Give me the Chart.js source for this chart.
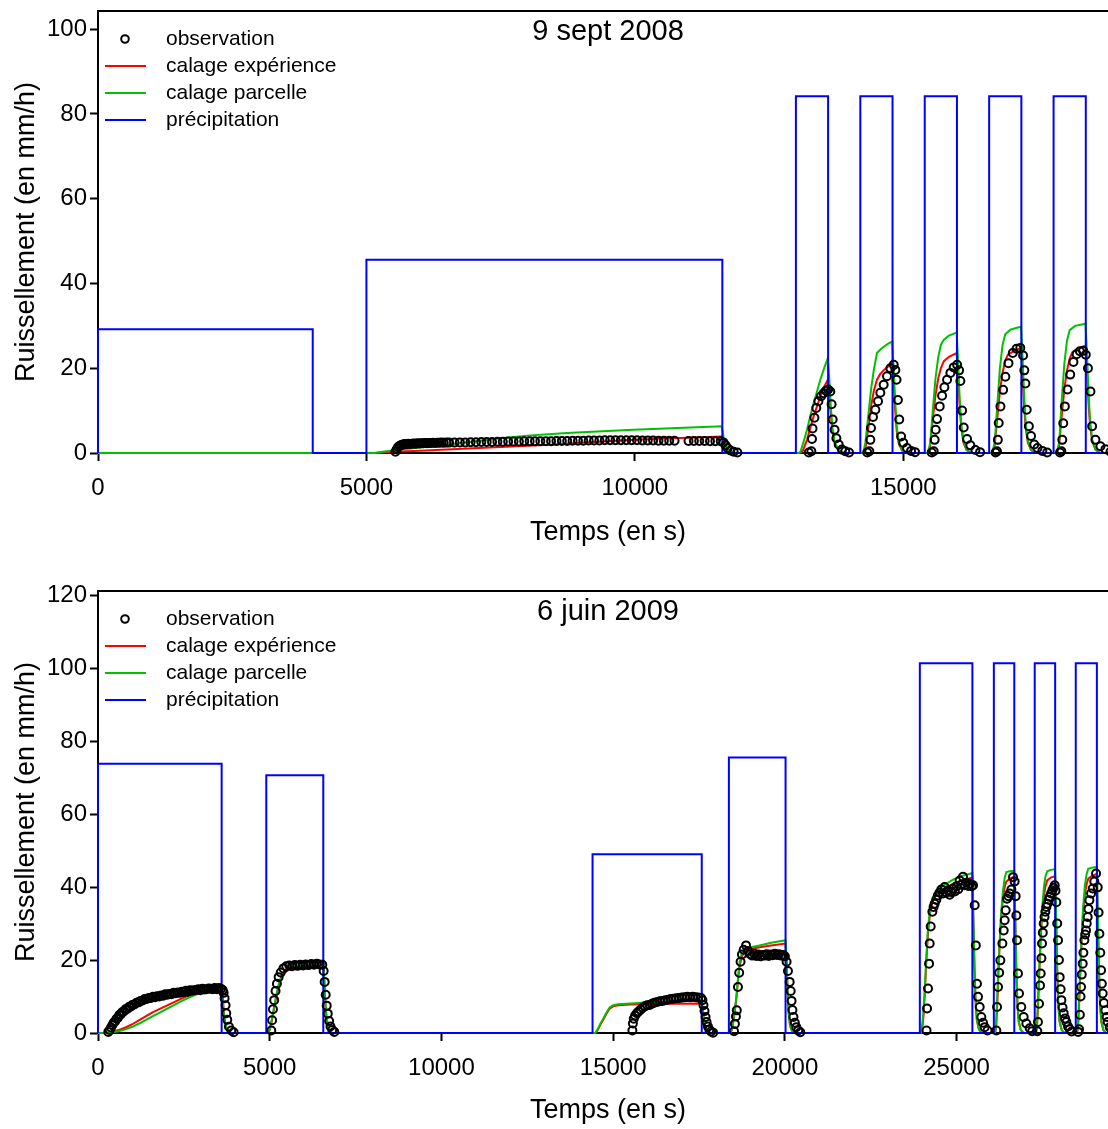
<!DOCTYPE html>
<html>
<head>
<meta charset="utf-8">
<script src="https://cdn.jsdelivr.net/npm/chart.js@4.4.1/dist/chart.umd.min.js"></script>
<style>
  html, body { margin: 0; padding: 0; background: #fff; overflow: hidden; }
  body { width: 1108px; height: 1129px; position: relative; }
  canvas { position: absolute; left: 0; }
  #chartTop { top: 0; }
  #chartBottom { top: 580px; }
</style>
</head>
<body>
<canvas id="chartTop" width="1124" height="580"></canvas>
<canvas id="chartBottom" width="1124" height="549"></canvas>
<script>
// TICKS
const xTicksTop = [0, 5000, 10000, 15000];
const yTicksTop = [0, 20, 40, 60, 80, 100];
const xTicksBottom = [0, 5000, 10000, 15000, 20000, 25000];
const yTicksBottom = [0, 20, 40, 60, 80, 100, 120];

const labels = ['observation', 'calage expérience', 'calage parcelle', 'précipitation'];

// 9 SEPT 2008 - [time s, mm/h]
const rainTop = [[0,0],[0,29.2],[4000,0],[5000,45.6],[11630,0],[13000,84.2],[13600,0],[14200,84.2],[14800,0],
  [15400,84.2],[16000,0],[16600,84.2],[17200,0],[17800,84.2],[18400,0],[19000,0]];

const expTop = [[0,0],[5150,0],[5500,0.3],[6000,0.55],[6500,0.8],[7000,1.1],[7500,1.4],[8000,1.7],[8500,2.0],[9000,2.4],
  [9500,2.8],[10000,3.1],[10500,3.4],[11000,3.6],[11620,3.9],[11660,2.2],[11700,1.0],[11760,0.3],[11850,0],
  [13080,0],[13130,0.5],[13207,3.1],[13270,6.0],[13330,8.6],[13400,11.3],[13455,13.3],[13520,15.5],[13595,17.3],
  [13620,14.0],[13650,9.0],[13680,5.0],[13720,2.5],[13780,0.8],[13850,0.2],[13950,0],
  [14260,0],[14300,1.5],[14350,6.0],[14400,11.0],[14450,14.5],[14510,17.3],[14570,18.6],[14640,19.6],[14720,20.4],[14795,21.2],
  [14820,17.0],[14850,10.0],[14880,5.0],[14920,2.0],[14980,0.5],[15050,0],
  [15460,0],[15500,1.5],[15550,8.0],[15598,13.4],[15650,17.5],[15700,20.0],[15753,21.6],[15850,22.7],[15995,23.6],
  [16020,18.0],[16050,11.0],[16080,6.0],[16120,2.5],[16180,0.7],[16260,0],
  [16660,0],[16700,1.5],[16750,8.0],[16800,14.5],[16850,19.0],[16900,21.8],[16950,23.2],[17050,24.0],[17195,24.8],
  [17220,19.0],[17250,11.5],[17280,6.0],[17320,2.5],[17380,0.7],[17460,0],
  [17860,0],[17900,1.5],[17950,8.5],[18000,15.0],[18050,19.5],[18100,22.3],[18150,23.8],[18250,24.7],[18395,25.3],
  [18420,19.5],[18450,12.0],[18480,6.5],[18520,2.8],[18580,0.8],[18660,0],[19000,0]];

const parTop = [[0,0],[5150,0],[5300,0.3],[5630,0.8],[6000,1.3],[6560,2.0],[7000,2.7],[7500,3.5],[8000,4.1],[8735,4.7],
  [9300,5.1],[9975,5.5],[10800,5.9],[11620,6.3],[11660,3.2],[11700,1.4],[11760,0.4],[11850,0],
  [13050,0],[13085,0.3],[13140,2.5],[13207,5.5],[13270,8.8],[13330,11.8],[13400,14.8],[13455,17.3],[13520,19.8],[13595,22.4],
  [13620,18.0],[13650,11.0],[13680,6.0],[13720,2.8],[13780,0.9],[13850,0.2],[13950,0],
  [14255,0],[14295,2.5],[14350,9.0],[14400,15.0],[14450,19.5],[14510,23.6],[14580,24.5],[14650,25.2],[14720,25.8],[14795,26.3],
  [14820,20.0],[14850,12.0],[14880,6.0],[14920,2.5],[14980,0.6],[15050,0],
  [15455,0],[15505,2.5],[15550,10.0],[15598,17.3],[15650,22.5],[15700,25.5],[15753,26.7],[15850,27.7],[15995,28.4],
  [16020,22.0],[16050,13.0],[16080,7.0],[16120,3.0],[16180,0.8],[16260,0],
  [16655,0],[16705,2.5],[16750,11.0],[16800,20.0],[16850,25.5],[16900,28.0],[16996,29.1],[17100,29.5],[17195,29.8],
  [17220,23.0],[17250,14.0],[17280,7.0],[17320,3.0],[17380,0.8],[17460,0],
  [17855,0],[17905,2.5],[17950,12.0],[18000,21.0],[18050,26.5],[18100,29.0],[18200,30.0],[18395,30.5],
  [18420,24.0],[18450,14.5],[18480,7.5],[18520,3.2],[18580,0.9],[18660,0],[19000,0]];

const obsTop = [
  [5540,0.3],[5565,0.9],[5590,1.4],[5620,1.7],[5650,1.9],[5680,2.0],[5710,2.1],[5745,2.1],[5780,2.2],[5815,2.15],
  [5850,2.2],[5885,2.25],[5920,2.2],[5955,2.3],[5990,2.25],[6025,2.3],[6060,2.3],[6095,2.35],[6130,2.3],[6165,2.35],
  [6200,2.35],[6240,2.4],[6280,2.35],[6320,2.4],[6360,2.4],[6400,2.45],[6440,2.4],[6490,2.45],[6540,2.45],
  [6640,2.45],[6740,2.5],[6840,2.5],[6940,2.55],[7040,2.55],[7140,2.6],[7240,2.6],[7340,2.6],[7440,2.65],[7540,2.65],
  [7640,2.7],[7740,2.7],[7840,2.7],[7940,2.75],[8040,2.75],[8140,2.75],[8240,2.8],[8340,2.8],[8440,2.8],[8540,2.85],
  [8640,2.85],[8740,2.85],[8840,2.9],[8940,2.9],[9040,2.9],[9140,2.95],[9240,2.95],[9340,2.95],[9440,3.0],[9540,3.0],
  [9640,3.0],[9740,3.0],[9840,3.0],[9940,3.0],[10040,3.0],[10140,2.95],[10240,2.95],[10340,2.95],[10440,2.9],[10540,2.9],
  [10640,2.9],[10740,2.9],[11000,2.85],[11100,2.85],[11200,2.85],[11300,2.85],[11400,2.8],[11500,2.8],[11600,2.8],
  [11650,2.5],[11690,1.8],[11730,1.1],[11780,0.6],[11840,0.3],[11910,0.1],
  [13240,0.1],[13288,0.4],[13300,3.3],[13310,5.8],[13345,8.3],[13380,10.6],[13420,12.2],[13468,13.4],[13517,14.1],
  [13560,14.7],[13600,15.0],[13641,14.5],[13665,11.5],[13685,7.9],[13720,5.5],[13754,3.5],[13797,2.0],[13858,0.8],
  [13920,0.4],[13990,0.1],
  [14330,0.1],[14368,0.4],[14387,3.1],[14399,5.9],[14436,8.5],[14480,10.2],[14530,12.2],[14573,14.2],[14635,16.1],
  [14697,18.1],[14760,20.0],[14822,20.8],[14853,19.6],[14875,17.3],[14900,12.5],[14925,7.9],[14960,3.9],[15000,2.4],
  [15070,1.2],[15145,0.5],[15220,0.2],
  [15530,0.1],[15567,0.4],[15585,3.1],[15604,5.5],[15629,8.0],[15679,11.0],[15723,13.5],[15766,15.5],[15816,17.3],
  [15878,18.9],[15940,20.2],[16003,20.8],[16040,19.5],[16064,17.0],[16096,10.0],[16126,6.0],[16188,3.3],[16250,1.8],
  [16344,0.7],[16430,0.2],
  [16720,0.1],[16745,0.4],[16762,3.1],[16778,7.1],[16810,11.0],[16860,14.9],[16902,18.0],[16960,21.2],[17040,23.6],
  [17110,24.6],[17180,24.8],[17232,23.0],[17255,19.5],[17275,16.4],[17300,10.2],[17340,6.3],[17380,4.0],[17440,2.0],
  [17500,1.2],[17590,0.5],[17680,0.1],
  [17920,0.1],[17945,0.4],[17962,3.1],[17980,7.0],[18010,11.0],[18060,15.0],[18110,18.5],[18170,21.5],[18230,23.3],
  [18290,24.0],[18350,24.1],[18400,23.2],[18440,20.0],[18487,14.5],[18518,6.3],[18580,3.1],[18673,1.6],[18766,0.9],
  [18860,0.3]];

// 6 JUIN 2009 - [time s, mm/h]
const rainBottom = [[0,0],[0,73.8],[3600,0],[4900,70.6],[6560,0],[14400,49.0],[17580,0],[18370,75.5],[20020,0],
  [23930,101.3],[25460,0],[26085,101.3],[26680,0],[27275,101.3],[27870,0],[28470,101.3],[29085,0],[29700,0]];

const expBottom = [[0,0],[200,0],[400,0.3],[600,0.8],[800,1.5],[1000,2.4],[1200,3.5],[1400,4.6],[1600,5.7],[1800,6.6],
  [2000,7.5],[2200,8.4],[2400,9.3],[2600,10.1],[2800,10.8],[3000,11.5],[3200,12.0],[3400,12.5],[3600,12.8],
  [3630,10.0],[3660,6.0],[3700,3.0],[3750,1.2],[3820,0.3],[3900,0],
  [4950,0],[5000,0.8],[5050,2.8],[5100,5.3],[5150,7.8],[5200,10.2],[5250,12.3],[5300,14.0],[5350,15.3],[5450,16.7],
  [5550,17.3],[5800,17.8],[6200,18.3],[6560,18.7],[6590,14.0],[6620,8.0],[6660,3.5],[6710,1.0],[6770,0.2],[6830,0],
  [14480,0],[14550,0.8],[14620,2.2],[14703,3.5],[14800,5.2],[14898,6.7],[15000,7.3],[15140,7.6],[15500,7.8],[15868,7.9],
  [16500,8.0],[17000,8.0],[17580,8.1],[17610,6.0],[17640,3.5],[17680,1.5],[17730,0.4],[17790,0],
  [18420,0],[18460,1.0],[18500,3.0],[18550,6.5],[18588,9.5],[18640,15.0],[18684,18.5],[18750,21.0],[18830,22.3],
  [19000,23.0],[19266,23.5],[19600,24.0],[20020,24.5],[20050,19.0],[20080,11.0],[20110,5.5],[20150,2.0],[20210,0.5],[20280,0],
  [23960,0],[24000,1.0],[24040,5.0],[24071,10.0],[24110,18.0],[24168,27.5],[24230,33.0],[24313,36.4],[24400,37.8],
  [24507,38.6],[24700,39.8],[24895,40.9],[25150,41.8],[25460,42.6],[25490,30.0],[25520,18.0],[25550,9.0],[25590,3.5],
  [25650,1.0],[25730,0],
  [26120,0],[26150,1.5],[26185,8.0],[26220,17.0],[26255,24.5],[26300,32.0],[26352,37.0],[26400,40.0],[26449,41.5],
  [26550,42.3],[26680,42.8],[26710,30.0],[26740,17.0],[26770,8.0],[26810,3.0],[26870,0.8],[26950,0],
  [27310,0],[27340,1.5],[27375,8.0],[27410,17.0],[27445,25.0],[27490,32.5],[27542,37.5],[27590,40.3],[27640,41.8],
  [27740,42.6],[27870,43.0],[27900,30.0],[27930,17.0],[27960,8.0],[28000,3.0],[28060,0.8],[28140,0],
  [28505,0],[28535,1.5],[28570,8.0],[28605,17.0],[28640,25.5],[28685,33.0],[28737,38.0],[28785,40.8],[28835,42.3],
  [28935,43.0],[29085,43.6],[29115,30.0],[29145,17.0],[29175,8.0],[29215,3.0],[29275,0.8],[29355,0],[29700,0]];

const parBottom = [[0,0],[200,0],[400,0.2],[600,0.5],[800,1.0],[1000,1.7],[1200,2.6],[1400,3.6],[1600,4.6],[1800,5.6],
  [2000,6.6],[2200,7.6],[2400,8.6],[2600,9.5],[2800,10.3],[3000,11.0],[3200,11.7],[3400,12.2],[3600,12.5],
  [3630,9.5],[3660,5.5],[3700,2.8],[3750,1.0],[3820,0.3],[3900,0],
  [4950,0],[5000,1.0],[5050,3.2],[5100,5.8],[5150,8.4],[5200,10.8],[5250,13.0],[5300,14.6],[5350,15.8],[5450,17.0],
  [5550,17.6],[5800,18.2],[6200,18.8],[6560,19.3],[6590,14.5],[6620,8.5],[6660,3.8],[6710,1.1],[6770,0.2],[6830,0],
  [14480,0],[14550,1.0],[14620,2.4],[14703,3.8],[14800,5.5],[14898,7.0],[15000,7.6],[15140,7.9],[15500,8.1],[15868,8.3],
  [16500,8.5],[17000,8.7],[17580,8.9],[17610,6.5],[17640,3.8],[17680,1.6],[17730,0.4],[17790,0],
  [18420,0],[18460,1.2],[18500,3.5],[18550,7.0],[18588,9.9],[18640,15.5],[18684,19.5],[18750,22.0],[18830,23.1],
  [19000,23.5],[19266,24.0],[19600,24.7],[20020,25.4],[20050,19.5],[20080,11.5],[20110,5.8],[20150,2.1],[20210,0.5],[20280,0],
  [23960,0],[23975,0.3],[24020,4.0],[24071,11.7],[24120,21.0],[24168,29.0],[24240,34.5],[24313,37.3],[24400,38.7],
  [24507,39.6],[24700,40.9],[24895,42.0],[25150,43.0],[25460,43.8],[25490,31.0],[25520,18.5],[25550,9.5],[25590,3.7],
  [25650,1.0],[25730,0],
  [26120,0],[26150,2.0],[26185,10.0],[26220,18.0],[26255,25.4],[26300,33.0],[26352,39.1],[26400,42.5],[26449,44.1],
  [26550,44.3],[26680,44.4],[26710,31.0],[26740,17.5],[26770,8.3],[26810,3.1],[26870,0.8],[26950,0],
  [27310,0],[27340,2.0],[27375,10.0],[27410,18.0],[27445,26.0],[27490,34.0],[27542,40.0],[27590,43.0],[27640,44.3],
  [27740,44.7],[27870,44.9],[27900,31.5],[27930,17.5],[27960,8.3],[28000,3.1],[28060,0.8],[28140,0],
  [28505,0],[28535,2.0],[28570,10.0],[28605,18.0],[28640,26.5],[28685,34.5],[28737,40.5],[28785,43.5],[28835,45.0],
  [28935,45.3],[29085,45.5],[29115,32.0],[29145,18.0],[29175,8.5],[29215,3.2],[29275,0.8],[29355,0],[29700,0]];

const obsBottom = [
  [300,0.3],[340,0.8],[380,1.5],[420,2.2],[460,2.9],[500,3.2],[540,3.9],[580,4.2],[620,4.9],[660,5.1],[700,5.7],
  [750,5.9],[800,6.5],[850,6.6],[900,7.1],[950,7.2],[1000,7.7],[1060,7.8],[1120,8.3],[1180,8.4],[1240,8.8],[1300,8.9],
  [1360,9.3],[1420,9.3],[1480,9.6],[1540,9.6],[1600,9.9],[1660,9.8],[1720,10.1],[1780,10.0],[1840,10.3],[1900,10.2],
  [1960,10.6],[2020,10.5],[2080,10.7],[2140,10.6],[2200,11.0],[2260,10.9],[2320,11.1],[2380,11.0],[2440,11.3],
  [2500,11.2],[2560,11.6],[2620,11.3],[2680,11.7],[2740,11.6],[2800,11.7],[2860,11.8],[2920,12.0],[2980,11.7],
  [3040,12.1],[3100,11.9],[3160,12.0],[3220,12.2],[3280,12.1],[3340,12.0],[3400,12.3],[3460,12.0],[3520,12.3],[3580,12.1],
  [3630,11.8],[3658,11.0],[3686,9.5],[3715,7.6],[3735,5.4],[3764,3.6],[3813,1.7],[3880,0.7],[3950,0.2],
  [5046,0.7],[5070,3.5],[5094,6.5],[5130,9.0],[5170,11.5],[5210,13.5],[5260,15.3],[5320,16.6],[5400,17.7],[5483,18.3],
  [5570,18.5],[5650,18.3],[5730,18.6],[5810,18.4],[5890,18.7],[5970,18.5],[6050,18.8],[6130,18.6],[6210,18.9],
  [6290,18.7],[6370,19.0],[6450,18.8],[6530,18.7],[6570,17.0],[6600,14.0],[6630,10.5],[6660,7.5],[6690,5.3],
  [6730,3.3],[6770,1.8],[6820,0.8],[6880,0.3],
  [15560,0.7],[15575,2.6],[15600,3.9],[15640,4.8],[15690,5.4],[15740,5.9],[15800,6.4],[15860,6.9],[15920,7.3],
  [15990,7.6],[16063,7.7],[16130,8.0],[16200,8.3],[16280,8.5],[16360,8.7],[16440,8.8],[16520,9.0],[16600,9.1],
  [16680,9.3],[16760,9.4],[16840,9.5],[16920,9.6],[17000,9.7],[17080,9.8],[17160,9.9],[17240,9.8],[17320,9.9],
  [17400,9.8],[17480,9.7],[17560,9.6],[17600,9.0],[17630,7.6],[17660,6.0],[17690,4.4],[17720,3.0],[17760,1.8],
  [17800,0.9],[17850,0.4],[17910,0.1],
  [18520,0.5],[18545,2.5],[18575,4.5],[18600,6.2],[18634,12.6],[18670,16.5],[18710,19.5],[18750,21.5],[18800,22.8],
  [18870,24.0],[18930,22.5],[18990,21.6],[19050,21.2],[19110,21.7],[19170,21.1],[19230,21.5],[19290,21.0],[19350,21.4],
  [19410,21.2],[19470,21.6],[19530,21.1],[19590,21.5],[19650,21.3],[19710,21.7],[19770,21.4],[19830,21.6],[19890,21.2],
  [19950,21.4],[20000,21.0],[20050,19.5],[20090,17.0],[20140,14.0],[20170,11.5],[20195,8.8],[20220,6.3],[20250,4.4],
  [20290,2.8],[20333,1.6],[20390,0.7],[20450,0.2],
  [24125,0.7],[24140,6.7],[24168,12.2],[24198,19.0],[24217,24.5],[24246,29.2],[24295,33.2],[24330,34.5],[24362,35.4],
  [24410,36.5],[24459,37.7],[24505,38.5],[24556,39.3],[24605,38.2],[24653,40.0],[24700,38.5],[24750,39.1],[24800,37.9],
  [24848,38.6],[24900,39.5],[24950,38.8],[25000,40.2],[25050,39.4],[25090,41.8],[25140,40.6],[25187,42.8],[25240,40.5],
  [25290,41.2],[25340,40.3],[25390,40.9],[25440,40.2],[25480,40.5],[25527,35.0],[25560,24.0],[25594,13.5],[25624,9.9],
  [25673,7.1],[25721,4.4],[25770,2.8],[25818,1.6],[25900,0.7],
  [26158,0.7],[26178,7.1],[26207,12.6],[26240,16.5],[26275,19.9],[26333,24.5],[26372,28.1],[26400,30.9],[26430,33.6],
  [26469,36.8],[26510,37.5],[26546,38.2],[26595,39.3],[26643,42.7],[26690,41.5],[26720,37.5],[26740,32.2],[26760,25.4],
  [26788,16.3],[26818,10.8],[26885,7.1],[26953,4.4],[27031,2.6],[27128,1.3],[27200,0.5],
  [27350,0.5],[27370,3.0],[27400,8.0],[27430,13.0],[27449,16.3],[27470,20.5],[27488,24.5],[27510,27.5],[27536,30.0],
  [27560,31.8],[27585,33.2],[27615,34.5],[27643,35.4],[27680,36.5],[27711,37.3],[27750,38.2],[27789,39.1],[27825,39.8],
  [27857,40.5],[27880,39.0],[27905,35.8],[27930,30.0],[27954,25.4],[27980,20.0],[28002,15.3],[28030,12.0],[28051,9.0],
  [28085,7.0],[28119,5.4],[28160,4.0],[28197,3.0],[28245,1.8],[28294,1.0],[28350,0.4],
  [28540,0.3],[28566,1.0],[28590,5.0],[28610,10.0],[28624,12.6],[28645,16.0],[28672,19.0],[28692,22.0],[28721,25.4],
  [28745,27.0],[28770,28.1],[28790,30.0],[28818,31.8],[28840,34.0],[28867,36.4],[28915,38.2],[28964,39.6],[29010,41.5],
  [29061,43.7],[29110,39.9],[29135,33.0],[29158,27.2],[29185,22.0],[29207,17.2],[29230,13.5],[29255,10.8],[29290,8.2],
  [29333,6.2],[29370,4.4],[29400,3.0],[29460,1.6],[29520,0.8]];

const FONT = "'Liberation Sans', Arial, sans-serif";
Chart.defaults.color = '#000';
Chart.defaults.font.family = FONT;

// PANEL PLUGIN: top border, title and legend inside the plot
const panelPlugin = {
  id: 'panel',
  beforeDatasetsDraw(chart) {
    const { ctx, chartArea: a } = chart;
    ctx.save();
    ctx.strokeStyle = '#000';
    ctx.lineWidth = 2;
    ctx.beginPath();
    ctx.moveTo(a.left - 1, a.top);
    ctx.lineTo(a.right, a.top);
    ctx.lineTo(a.right, a.bottom);
    ctx.stroke();
    ctx.restore();
  },
  afterDraw(chart, args, opts) {
    const { ctx, chartArea: a } = chart;
    ctx.save();
    ctx.fillStyle = '#000';
    ctx.textBaseline = 'middle';
    ctx.textAlign = 'center';
    ctx.font = '29px ' + FONT;
    ctx.fillText(opts.title, (a.left + a.right) / 2, a.top + 21);

    ctx.textAlign = 'left';
    ctx.font = '21px ' + FONT;
    chart.data.datasets.forEach((ds, i) => {
      const y = a.top + 28 + i * 27;
      if (ds.showLine === false) {
        ctx.beginPath();
        ctx.arc(a.left + 27, y, 3.8, 0, Math.PI * 2);
        ctx.strokeStyle = '#000';
        ctx.lineWidth = 2;
        ctx.stroke();
      } else {
        ctx.beginPath();
        ctx.moveTo(a.left + 7, y);
        ctx.lineTo(a.left + 48, y);
        ctx.strokeStyle = ds.borderColor;
        ctx.lineWidth = 2;
        ctx.stroke();
      }
      ctx.fillStyle = '#000';
      ctx.fillText(ds.label, a.left + 68, y);
    });
    ctx.restore();
  }
};

function makeChart(id, p) {
  const canvas = document.getElementById(id);
  const axisHeight = canvas.height - 453;
  return new Chart(canvas, {
    type: 'scatter',
    data: {
      datasets: [
        { label: labels[0], data: p.obs, showLine: false, pointRadius: 4, pointBorderWidth: 2,
          pointBorderColor: '#000', pointBackgroundColor: 'rgba(0,0,0,0)', order: 0, clip: false },
        { label: labels[1], data: p.exp, showLine: true, borderColor: '#ff0000', borderWidth: 2,
          pointRadius: 0, order: 3, clip: false },
        { label: labels[2], data: p.par, showLine: true, borderColor: '#00c000', borderWidth: 2,
          pointRadius: 0, order: 2, clip: false },
        { label: labels[3], data: p.rain, showLine: true, stepped: true, borderColor: '#0000ff', borderWidth: 2,
          pointRadius: 0, order: 1, clip: false }
      ]
    },
    options: {
      responsive: false,
      animation: false,
      devicePixelRatio: 1,
      events: [],
      layout: { padding: { left: 0, top: 11, right: 2, bottom: 0 } },
      plugins: {
        legend: { display: false },
        tooltip: { enabled: false },
        panel: { title: p.title }
      },
      scales: {
        x: {
          type: 'linear',
          min: 0,
          max: p.xMax,
          afterBuildTicks: s => { s.ticks = p.xTicks.map(v => ({ value: v })); },
          afterFit: s => { s.height = axisHeight; s.paddingLeft = 0; s.paddingRight = 0; },
          ticks: { font: { size: 24 }, padding: 13, maxRotation: 0, autoSkip: false, callback: v => String(v) },
          grid: { drawOnChartArea: false, color: '#000', tickLength: 8, tickWidth: 2 },
          border: { color: '#000', width: 2 },
          title: { display: true, text: 'Temps (en s)', font: { size: 27 }, padding: { top: 0, bottom: p.xTitlePad } }
        },
        y: {
          type: 'linear',
          min: 0,
          max: p.yMax,
          afterBuildTicks: s => { s.ticks = p.yTicks.map(v => ({ value: v })); },
          afterFit: s => { s.width = 98; s.paddingTop = 0; s.paddingBottom = 0; },
          ticks: { font: { size: 24 }, padding: 3, callback: v => String(v) },
          grid: { drawOnChartArea: false, color: '#000', tickLength: 8, tickWidth: 2 },
          border: { color: '#000', width: 2 },
          title: { display: true, text: 'Ruissellement (en mm/h)', font: { size: 27 }, padding: { top: 10.8, bottom: 0 } }
        }
      }
    },
    plugins: [panelPlugin]
  });
}

makeChart('chartTop', {
  title: '9 sept 2008', obs: obsTop, exp: expTop, par: parTop, rain: rainTop,
  xMax: 19000, yMax: 104.3, xTicks: xTicksTop, yTicks: yTicksTop, xTitlePad: 30.8
});

makeChart('chartBottom', {
  title: '6 juin 2009', obs: obsBottom, exp: expBottom, par: parBottom, rain: rainBottom,
  xMax: 29700, yMax: 121.1, xTicks: xTicksBottom, yTicks: yTicksBottom, xTitlePad: 1.8
});
</script>
</body>
</html>
